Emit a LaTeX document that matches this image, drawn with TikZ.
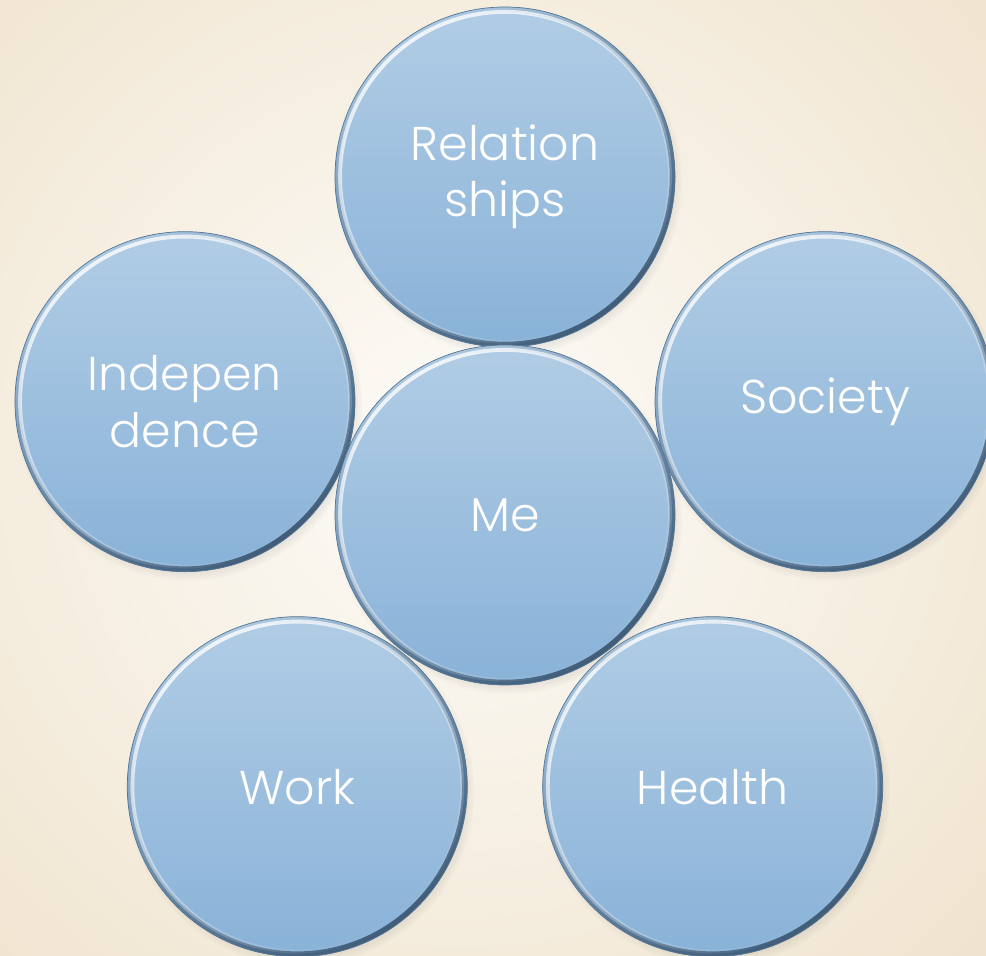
\documentclass[tikz,border=0pt]{standalone}
\usepackage{fontspec}
\setmainfont{Poppins Light}
\usetikzlibrary{shadows,fadings,positioning}

\definecolor{bgmid}{HTML}{FDFCF9}
\definecolor{bgedge}{HTML}{EFE2CB}
\definecolor{balltop}{HTML}{B1CDE5}
\definecolor{ballbottom}{HTML}{89B2D8}
\definecolor{balledge}{HTML}{3F5B77}

\tikzfading[name=rimfade, top color=transparent!100, bottom color=transparent!0]

\tikzset{
  bubble/.style={circle, minimum size=6.8cm, inner sep=0pt,
    top color=balltop, bottom color=ballbottom,
    draw=balledge!70!ballbottom, line width=0.4pt,
    text=white, align=center, font=\fontsize{27}{32}\selectfont,
    circular drop shadow={shadow xshift=0.6mm, shadow yshift=-0.9mm,
      shadow scale=1.025, opacity=0.4},
    path picture={
      % dark rim bottom right, light rim top left
      \draw[balledge, line width=6pt, path fading=rimfade, fading angle=35]
        (path picture bounding box.center) circle (3.4);
      \draw[white, opacity=0.8, line width=2.2pt, path fading=rimfade, fading angle=215]
        (path picture bounding box.center) circle (3.3);
    }}
}

\begin{document}
\begin{tikzpicture}

  \def\picw{19.72}
  \def\pich{19.12}

  \useasboundingbox (0,0) rectangle (\picw,\pich);
  \begin{scope}
    \clip (0,0) rectangle (\picw,\pich);
    \shade[inner color=bgmid, outer color=bgedge] (9.2,10) circle (15.5);
  \end{scope}

  \coordinate (mid) at (10.1,8.82);

  \path (mid) ++(90:6.76) node[bubble] (rel) {Relation\\ships};
  \path (mid) ++(160.5:6.79) node[bubble] (indep) {Indepen\\dence};
  \path (mid) ++(19.5:6.79) node[bubble] (soc) {Society};
  \path (mid) ++(232.6:6.84) node[bubble] (work) {Work};
  \path (mid) ++(-52.6:6.84) node[bubble] (health) {Health};

  \node[bubble] (me) at (mid) {Me};

\end{tikzpicture}
\end{document}
